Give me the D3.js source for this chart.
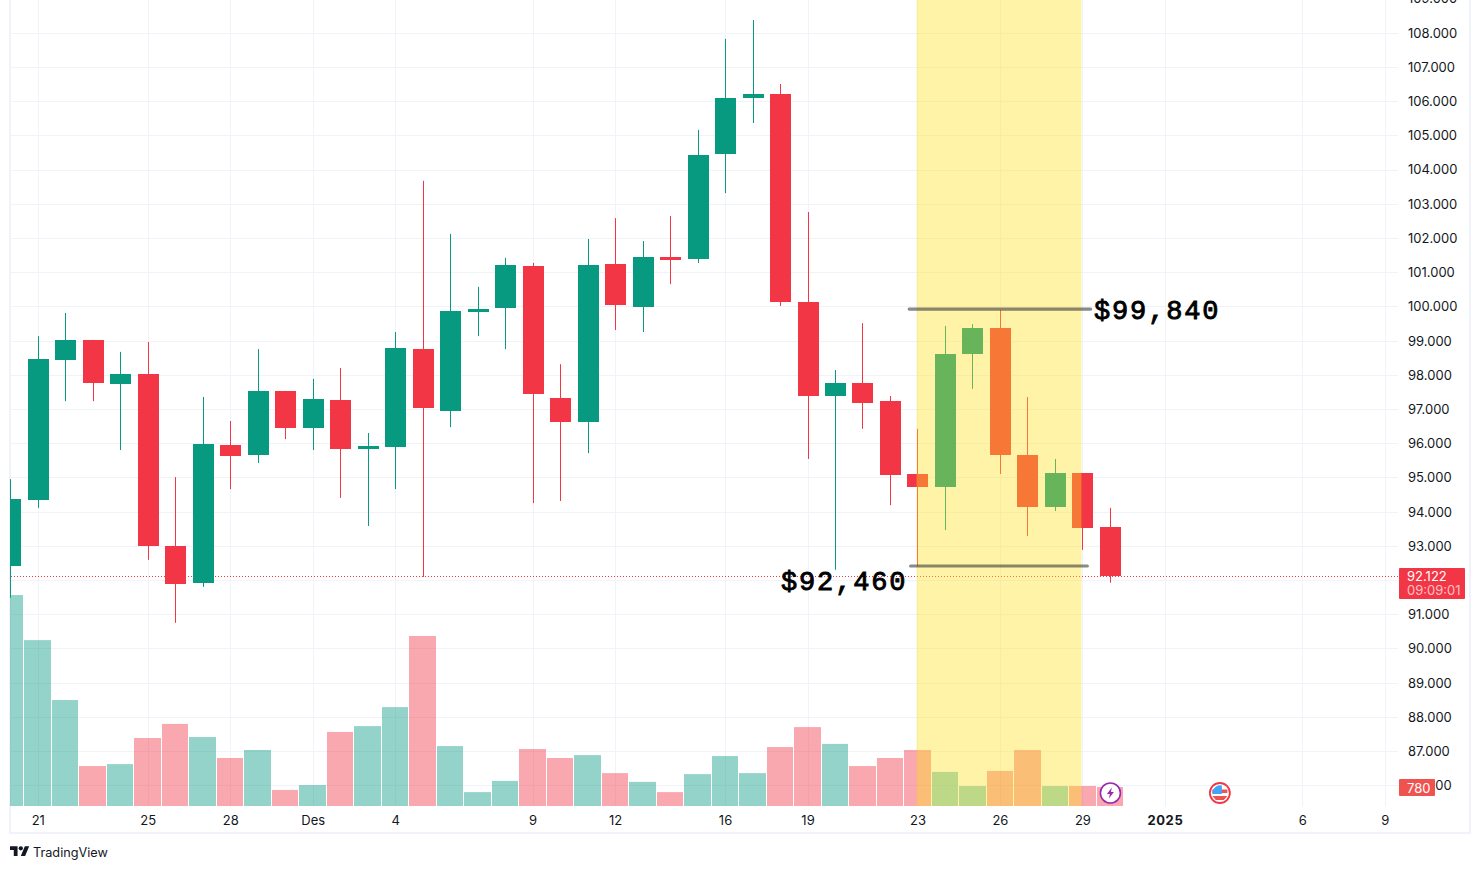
<!DOCTYPE html>
<html><head><meta charset="utf-8">
<script src="https://cdn.jsdelivr.net/npm/d3@7"></script>
<style>html,body{margin:0;padding:0;background:#fff;overflow:hidden}svg{display:block}
text{font-family:Inter,"Noto Sans",sans-serif}</style></head>
<body><svg id="c" width="1480" height="869"></svg>
<script>
// Daily candles, 20 Nov 2024 - 30 Dec 2024, in thousands of USD
const opens =[92.41,94.34,98.43,99.02,97.73,98.02,93.00,91.92,95.95,95.66,97.53,96.44,97.26,95.83,95.89,98.75,96.94,99.86,99.95,101.18,97.32,96.62,101.24,99.98,101.44,101.38,104.45,106.09,106.21,100.13,97.38,97.76,97.23,95.10,94.72,98.61,99.37,95.66,94.14,95.13,93.55];
const highs =[94.95,99.13,99.81,99.02,98.67,98.96,95.01,97.35,96.65,98.75,97.53,97.88,98.20,96.30,99.25,103.67,102.12,100.57,101.42,101.27,98.31,101.97,102.58,101.91,102.64,105.16,107.82,108.37,106.50,102.76,98.14,99.51,97.38,96.42,99.43,99.48,99.89,97.35,95.54,95.13,94.11];
const lows  =[91.48,94.11,97.23,97.23,95.80,92.59,90.75,91.80,94.66,95.42,96.12,95.80,94.40,93.58,94.66,92.09,96.47,99.13,98.75,94.25,94.31,95.71,99.31,99.25,100.65,101.27,103.31,105.36,100.01,95.54,92.30,96.42,94.19,92.41,93.46,97.59,95.10,93.29,94.02,92.88,91.92];
const closes=[94.37,98.46,99.02,97.76,98.02,93.00,91.89,95.98,95.63,97.53,96.44,97.29,95.83,95.92,98.78,97.03,99.86,99.92,101.21,97.44,96.62,101.21,100.04,101.44,101.36,104.42,106.09,106.21,100.13,97.38,97.76,97.18,95.07,94.72,98.61,99.37,95.66,94.14,95.13,93.52,92.122];
const volumes=[8660,6810,4350,1640,1720,2790,3370,2830,1970,2300,660,860,3040,3280,4060,6980,2460,570,1030,2340,1970,2090,1350,990,570,1310,2050,1350,2420,3240,2550,1640,1970,2300,1400,820,1440,2300,820,820,780];
const priceTicks=[86,87,88,89,90,91,92,93,94,95,96,97,98,99,100,101,102,103,104,105,106,107,108,109];
const dateTicks=[1,5,8,11,14,19,22,26,29,33,36,39,42,47,50];
const dateLabels=["21","25","28","Des","4","9","12","16","19","23","26","29","2025","6","9"];
const highlight=[33,39];
const annotations=[{label:"$99,840",price:99.92,from:32.7,to:39.3},{label:"$92,460",price:92.41,from:32.75,to:39.18}];
const lastPrice=92.122, countdown="09:09:01", lastVolume="780";

const UP="#089981",DOWN="#f23645",GRID="#f0f3fa",TEXT="#131722";
const svg=d3.select("#c");
const x=d3.scaleLinear().domain([0,40]).range([10.3,1109.9]);
const y=d3.scaleLinear().domain([108,86]).range([32.7,785.3]);
const v=d3.scaleLinear().domain([0,780]).range([806,787]);
const L=11,R=1398,B=806;
const col=i=>closes[i]>=opens[i]?UP:DOWN;

const defs=svg.append("defs");
defs.append("clipPath").attr("id","pane").append("rect").attr("x",10).attr("y",0).attr("width",R-10).attr("height",B);
// frame
svg.append("rect").attr("x",10).attr("y",-4).attr("width",1460).attr("height",837).attr("fill","none").attr("stroke",GRID).attr("stroke-width",2);

const pane=svg.append("g").attr("clip-path","url(#pane)");
pane.selectAll(".gh").data(priceTicks).join("rect").attr("x",L).attr("width",R-L).attr("height",1)
  .attr("y",d=>Math.round(y(d))).attr("fill",GRID);
pane.selectAll(".gv").data(dateTicks).join("rect").attr("y",0).attr("width",1).attr("height",B)
  .attr("x",d=>Math.round(x(d))).attr("fill",GRID);

// volume
const idx=d3.range(volumes.length);
const edge=i=>Math.round(x(i-.5)+.4);
pane.selectAll(".vol").data(idx).join("rect")
  .attr("x",i=>edge(i)).attr("width",i=>edge(i+1)-edge(i)-1)
  .attr("y",i=>v(volumes[i])).attr("height",i=>B-v(volumes[i]))
  .attr("fill",col).attr("fill-opacity",.43);

// price line
pane.append("line").attr("x1",L).attr("x2",R).attr("y1",Math.round(y(lastPrice))+.5).attr("y2",Math.round(y(lastPrice))+.5)
  .attr("stroke",DOWN).attr("stroke-dasharray","1 2");

// candles
pane.selectAll(".wick").data(idx).join("rect")
  .attr("x",i=>Math.round(x(i))).attr("width",1)
  .attr("y",i=>y(highs[i])).attr("height",i=>y(lows[i])-y(highs[i])).attr("fill",col);
pane.selectAll(".body").data(idx).join("rect")
  .attr("x",i=>Math.round(x(i))-10).attr("width",21)
  .attr("y",i=>Math.round(y(Math.max(opens[i],closes[i]))))
  .attr("height",i=>Math.max(3,Math.round(y(Math.min(opens[i],closes[i])))-Math.round(y(Math.max(opens[i],closes[i])))))
  .attr("fill",col);

// highlighted period
pane.append("rect").attr("x",Math.round(x(highlight[0]))-.5).attr("width",x(highlight[1])-x(highlight[0])).attr("y",0).attr("height",B)
  .attr("fill","#ffdf20").attr("fill-opacity",.39);

// axes
const yAxis=d3.axisRight(y).tickValues(priceTicks).tickSize(0).tickPadding(0).tickFormat(d3.format(".3f"));
const ya=svg.append("g").attr("transform","translate(1408,0)").call(yAxis);
ya.select(".domain").remove();
ya.selectAll("text").style("font-family","Inter,sans-serif").attr("font-size",13).attr("fill",TEXT).attr("x",0).attr("dy","0.34em");

const xAxis=d3.axisBottom(x).tickValues(dateTicks).tickSize(0).tickPadding(0).tickFormat((d,i)=>dateLabels[i]);
const xa=svg.append("g").attr("transform","translate(0,816)").call(xAxis);
xa.select(".domain").remove();
xa.selectAll("text").style("font-family","Inter,sans-serif").attr("font-size",13).attr("fill",TEXT).attr("y",0).attr("dy","0.71em")
  .attr("font-weight",(d,i)=>dateLabels[i]==="2025"?700:400).attr("letter-spacing",(d,i)=>dateLabels[i]==="2025"?"0.6px":null);

// last price badge
const py=y(lastPrice);
svg.append("rect").attr("x",1399).attr("y",Math.round(py)-8).attr("width",66).attr("height",31).attr("fill",DOWN).attr("rx",1);
svg.append("text").attr("x",1407).attr("y",py+5).attr("font-size",13).attr("fill","#fff").text(d3.format(".3f")(lastPrice));
svg.append("text").attr("x",1407).attr("y",py+19).attr("font-size",13).attr("fill","#fff").attr("fill-opacity",.7).text(countdown);
// volume badge
svg.append("rect").attr("x",1399).attr("y",779).attr("width",36).attr("height",17).attr("fill","#ef5350").attr("rx",1);
svg.append("text").attr("x",1407).attr("y",792.5).attr("font-size",13).attr("fill","#fff").text(lastVolume);

// annotations
annotations.forEach((a,k)=>{
  svg.append("line").attr("x1",x(a.from)).attr("x2",x(a.to)).attr("y1",y(a.price)).attr("y2",y(a.price))
    .attr("stroke","#3c3c3c").attr("stroke-opacity",.6).attr("stroke-width",3.2).attr("stroke-linecap","round");
  svg.append("text").attr("x",k?781:1094).attr("y",k?590:319).text(a.label)
    .style("font-family",'"Liberation Mono",monospace').attr("font-size",27).attr("font-weight",400)
    .attr("stroke","#000").attr("stroke-width",.9)
    .attr("letter-spacing","1.85px").attr("fill","#000");
});

// event icons
const e1=svg.append("g").attr("transform",`translate(${x(40)+.5},793)`);
e1.append("circle").attr("r",10).attr("fill","#fff").attr("stroke","#9c27b0").attr("stroke-width",1.6);
e1.append("path").attr("d","M1.5-5.5L-3.5 1H-.5L-1.5 5.5L3.5-1H.5Z").attr("fill","#9c27b0");
const e2=svg.append("g").attr("transform",`translate(${x(44)},793)`);
e2.append("circle").attr("r",10).attr("fill","#fff").attr("stroke","#f23645").attr("stroke-width",1.8);
e2.append("path").attr("d","M-7.5-3.5H7.5V0H-7.5Z M-7.5 3H7.5L4 7H-4Z").attr("fill","#ef5350");
e2.append("path").attr("d","M-7.5-1A8 8 0 0 1 2-7.5V1H-7.5Z").attr("fill","#42a5f5");

// logo
const logo=svg.append("g").attr("transform","translate(10,844) scale(0.54)").attr("fill",TEXT);
logo.append("path").attr("d","M14 22H7V11H0V4h14v18zM28 22h-8l7.5-18h8L28 22z");
logo.append("circle").attr("cx",20).attr("cy",8).attr("r",4);
svg.append("text").attr("x",33).attr("y",857).attr("font-size",12.7).attr("fill",TEXT).text("TradingView");
</script></body></html>
